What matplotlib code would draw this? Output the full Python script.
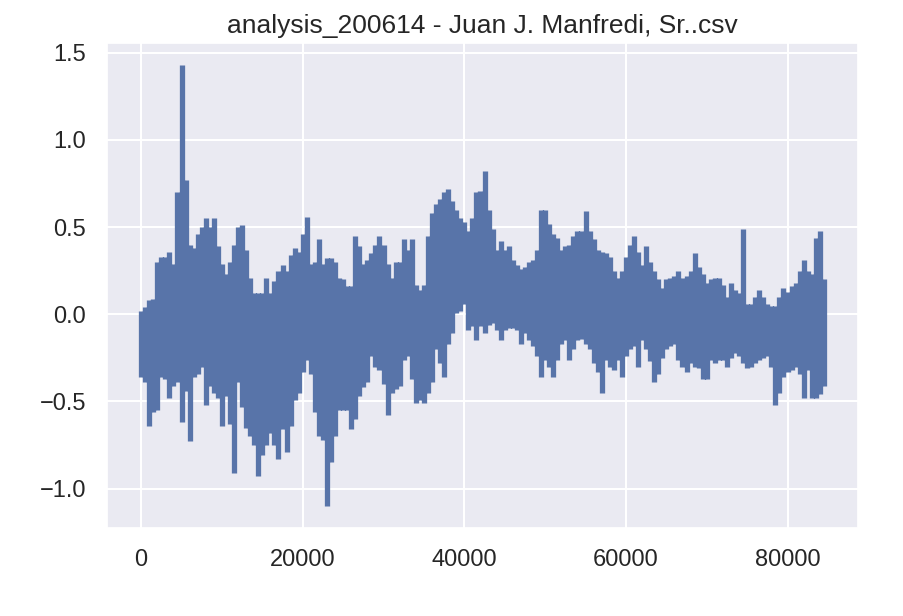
import numpy as np
import matplotlib
matplotlib.use("Agg")
import matplotlib.pyplot as plt
import seaborn as sns

title = "analysis_200614 - Juan J. Manfredi, Sr..csv"
step = 500  # spacing of the envelope samples (index units)

# upper envelope of the signal, one value per 500 samples
hi = [0.02, 0.04, 0.08, 0.09, 0.30, 0.33, 0.33, 0.36, 0.29, 0.70,
      1.43, 0.77, 0.40, 0.38, 0.46, 0.50, 0.55, 0.50, 0.55, 0.39,
      0.29, 0.23, 0.30, 0.40, 0.50, 0.51, 0.37, 0.21, 0.12, 0.12,
      0.12, 0.21, 0.12, 0.19, 0.25, 0.28, 0.25, 0.34, 0.38, 0.36,
      0.46, 0.56, 0.29, 0.30, 0.43, 0.29, 0.32, 0.32, 0.30, 0.21,
      0.20, 0.16, 0.16, 0.45, 0.39, 0.29, 0.31, 0.35, 0.40, 0.45,
      0.40, 0.29, 0.21, 0.30, 0.30, 0.43, 0.37, 0.43, 0.17, 0.14,
      0.17, 0.45, 0.58, 0.63, 0.66, 0.70, 0.72, 0.65, 0.60, 0.55,
      0.53, 0.48, 0.55, 0.70, 0.71, 0.82, 0.60, 0.49, 0.37, 0.42,
      0.37, 0.39, 0.31, 0.28, 0.26, 0.27, 0.30, 0.31, 0.37, 0.60,
      0.60, 0.52, 0.46, 0.44, 0.37, 0.39, 0.40, 0.45, 0.48, 0.48,
      0.59, 0.48, 0.43, 0.37, 0.36, 0.35, 0.33, 0.25, 0.21, 0.25,
      0.33, 0.40, 0.45, 0.36, 0.28, 0.39, 0.30, 0.25, 0.20, 0.15,
      0.20, 0.21, 0.22, 0.25, 0.21, 0.22, 0.25, 0.35, 0.27, 0.23,
      0.18, 0.20, 0.21, 0.21, 0.17, 0.10, 0.18, 0.14, 0.12, 0.49,
      0.06, 0.06, 0.10, 0.14, 0.10, 0.06, 0.05, 0.05, 0.10, 0.15,
      0.13, 0.16, 0.18, 0.25, 0.31, 0.25, 0.23, 0.44, 0.48, 0.20]

# lower envelope of the signal, same sampling
lo = [-0.36, -0.39, -0.64, -0.56, -0.55, -0.36, -0.37, -0.48, -0.41, -0.39,
      -0.62, -0.44, -0.73, -0.36, -0.34, -0.30, -0.52, -0.41, -0.45, -0.48,
      -0.64, -0.47, -0.63, -0.91, -0.39, -0.53, -0.65, -0.70, -0.75, -0.93,
      -0.81, -0.75, -0.68, -0.75, -0.83, -0.66, -0.79, -0.64, -0.49, -0.45,
      -0.33, -0.26, -0.34, -0.56, -0.70, -0.72, -1.10, -0.85, -0.70, -0.55,
      -0.55, -0.55, -0.66, -0.60, -0.47, -0.42, -0.39, -0.24, -0.30, -0.32,
      -0.40, -0.58, -0.45, -0.43, -0.41, -0.26, -0.24, -0.37, -0.51, -0.49,
      -0.51, -0.45, -0.39, -0.20, -0.28, -0.36, -0.17, -0.11, 0.01, 0.02,
      0.06, -0.09, -0.07, -0.15, -0.07, -0.11, -0.06, -0.05, -0.09, -0.15,
      -0.09, -0.08, -0.08, -0.09, -0.17, -0.11, -0.15, -0.18, -0.24, -0.36,
      -0.26, -0.30, -0.36, -0.26, -0.17, -0.15, -0.26, -0.20, -0.15, -0.14,
      -0.17, -0.20, -0.28, -0.33, -0.45, -0.26, -0.30, -0.32, -0.26, -0.36,
      -0.24, -0.20, -0.18, -0.30, -0.15, -0.20, -0.27, -0.39, -0.34, -0.25,
      -0.20, -0.18, -0.17, -0.26, -0.30, -0.33, -0.28, -0.30, -0.31, -0.37,
      -0.37, -0.26, -0.28, -0.26, -0.26, -0.30, -0.25, -0.22, -0.24, -0.28,
      -0.31, -0.30, -0.28, -0.26, -0.25, -0.24, -0.30, -0.52, -0.45, -0.36,
      -0.33, -0.32, -0.30, -0.34, -0.48, -0.32, -0.48, -0.48, -0.46, -0.41]

sns.set_theme(style="darkgrid")
plt.rcParams['font.family'] = ['Liberation Sans', 'DejaVu Sans']
plt.rcParams['grid.linewidth'] = 1.5

fig = plt.figure(figsize=(9.04, 6.16), dpi=100)
ax = fig.add_axes([107 / 904, (616 - 528) / 616, 751 / 904, 485 / 616])

idx = np.arange(len(hi)) * step
xs, ys = [], []
for x, h, l in zip(idx, hi, lo):
    xs += [x, x, np.nan]
    ys += [l, h, np.nan]

ax.plot(xs, ys, color='#5874a9', lw=3.8, solid_capstyle='butt')

ax.set_title(title, fontsize=19, color='#262626', pad=7)
ax.tick_params(axis='both', labelsize=17, length=0, pad=15, colors='#262626')
ax.set_yticks([-1.0, -0.5, 0.0, 0.5, 1.0, 1.5])
ax.set_xticks([0, 20000, 40000, 60000, 80000])

fig.savefig("out.png", dpi=100)
